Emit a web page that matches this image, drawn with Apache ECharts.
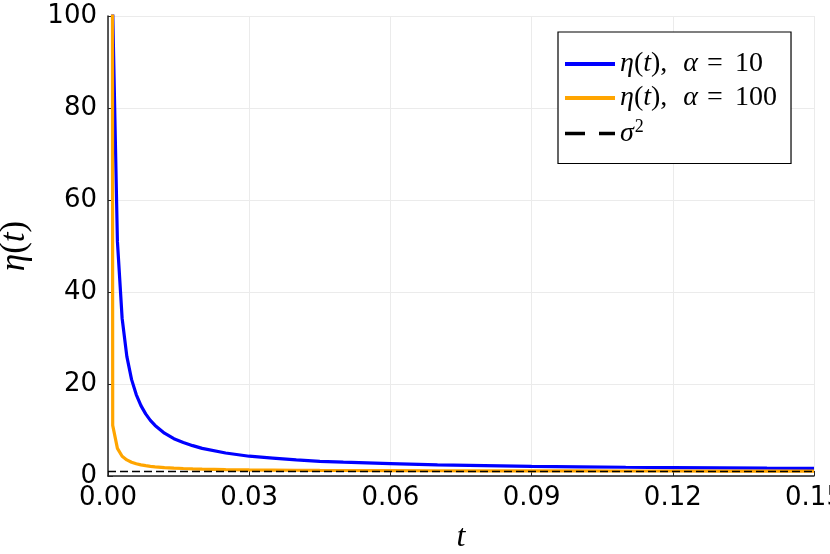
<!DOCTYPE html>
<html>
<head>
<meta charset="utf-8">
<script src="https://cdn.jsdelivr.net/npm/echarts@6/dist/echarts.min.js"></script>
<style>html,body{margin:0;padding:0;background:#fff}#c{width:830px;height:554px}</style>
</head>
<body>
<div id="c"></div>
<script>
// ---- data ----
const tAlpha10 = [0.001,0.002,0.003,0.004,0.005,0.006,0.007,0.008,0.009,0.010,0.012,0.014,0.016,0.018,0.020,0.025,0.030,0.035,0.040,0.045,0.050,0.060,0.070,0.080,0.090,0.100,0.110,0.120,0.130,0.140,0.150];
const etaAlpha10 = [101,51,34.3,26,21,17.7,15.3,13.5,12.1,11,9.3,8.1,7.3,6.6,6,5,4.3,3.9,3.5,3.2,3,2.7,2.4,2.25,2.1,2,1.9,1.83,1.77,1.71,1.67];
const tAlpha100 = [0.00095,0.001,0.002,0.003,0.004,0.005,0.006,0.007,0.008,0.009,0.010,0.012,0.014,0.016,0.018,0.020,0.025,0.030,0.035,0.040,0.045,0.050,0.060,0.070,0.080,0.090,0.100,0.110,0.120,0.130,0.140,0.150];
const etaAlpha100 = [105,11,6,4.3,3.5,3,2.67,2.43,2.25,2.1,2,1.83,1.71,1.63,1.56,1.5,1.4,1.33,1.29,1.25,1.22,1.2,1.17,1.14,1.125,1.11,1.1,1.09,1.083,1.077,1.071,1.067];
const tSigma = [0, 0.15];
const sigma2 = [1, 1];
const seriesNames = ['η(t), α = 10', 'η(t), α = 100', 'σ²'];
const xTicks = [0, 0.03, 0.06, 0.09, 0.12, 0.15];
const yTicks = [0, 20, 40, 60, 80, 100];

const zip = (a, b) => a.map((v, i) => [v, b[i]]);
const serif = 'Liberation Serif';
const FS = 28;
const rich = {
  i: {fontFamily: serif, fontStyle: 'italic', fontSize: FS, color: '#000'},
  r: {fontFamily: serif, fontSize: FS, color: '#000'},
  e: {fontFamily: serif, fontSize: FS, color: '#000', width: 20},
  a: {fontFamily: serif, fontSize: FS, color: '#000', width: 16},
  b: {fontFamily: serif, fontSize: FS, color: '#000', width: 9},
  c: {fontFamily: serif, fontSize: FS, color: '#000', width: 8},
  s: {fontFamily: serif, fontSize: 18, color: '#000', padding: [0, 0, 13, 1]}
};
const legendLabels = {
  [seriesNames[0]]: '{i|η}{r|(}{i|t}{r|),}{a| }{i|α}{b| }{e|=}{c| }{r|10}',
  [seriesNames[1]]: '{i|η}{r|(}{i|t}{r|),}{a| }{i|α}{b| }{e|=}{c| }{r|100}',
  [seriesNames[2]]: '{i|σ}{s|2}'
};

const chart = echarts.init(document.getElementById('c'), null, {renderer: 'canvas'});
chart.setOption({
  animation: false,
  backgroundColor: '#fff',
  grid: {left: 108, right: 16, top: 16, bottom: 78, containLabel: false, outerBoundsMode: 'none'},
  xAxis: {
    type: 'value', min: xTicks[0], max: xTicks[xTicks.length - 1], interval: 0.03,
    name: '{i|t}', nameLocation: 'middle', nameGap: 46,
    nameTextStyle: {rich: {i: {fontFamily: serif, fontStyle: 'italic', fontSize: 32, color: '#000'}}},
    axisLine: {onZero: false, lineStyle: {color: '#222', width: 1.5}},
    axisTick: {inside: true, length: 5, lineStyle: {color: '#222', width: 1}},
    axisLabel: {fontFamily: 'DejaVu Sans', fontSize: 26, color: '#000', margin: 9,
      formatter: v => v.toFixed(2), showMaxLabel: true, hideOverlap: false},
    splitLine: {show: true, lineStyle: {color: '#ebebeb', width: 1}}
  },
  yAxis: {
    type: 'value', min: yTicks[0], max: yTicks[yTicks.length - 1], interval: 20,
    name: '{i|η}{r|(}{i|t}{r|)}', nameLocation: 'middle', nameGap: 76, nameRotate: 90,
    nameTextStyle: {rich: {
      i: {fontFamily: serif, fontStyle: 'italic', fontSize: 35, color: '#000'},
      r: {fontFamily: serif, fontSize: 35, color: '#000'}}},
    axisLine: {onZero: false, lineStyle: {color: '#222', width: 1.5}},
    axisTick: {inside: true, length: 5, lineStyle: {color: '#222', width: 1}},
    axisLabel: {fontFamily: 'DejaVu Sans', fontSize: 26, color: '#000', margin: 11},
    splitLine: {show: true, lineStyle: {color: '#ebebeb', width: 1}}
  },
  legend: {
    orient: 'vertical', left: 558, top: 32,
    padding: [18, 14, 16, 5],
    itemWidth: 50, itemHeight: 26, itemGap: 6,
    backgroundColor: '#fff', borderColor: '#000', borderWidth: 1.2, borderRadius: 0,
    itemStyle: {opacity: 0},
    textStyle: {rich: rich, lineHeight: 26},
    formatter: name => legendLabels[name],
    data: [
      {name: seriesNames[0], lineStyle: {width: 4}, itemStyle: {opacity: 0}},
      {name: seriesNames[1], lineStyle: {width: 4}, itemStyle: {opacity: 0}},
      {name: seriesNames[2], lineStyle: {width: 3.5, type: [20, 14]}, itemStyle: {opacity: 0}}
    ]
  },
  series: [
    {name: seriesNames[0], type: 'line', data: zip(tAlpha10, etaAlpha10), symbol: 'none',
      lineStyle: {color: '#0000ff', width: 3.2}, itemStyle: {color: '#0000ff'}, clip: true, z: 2},
    {name: seriesNames[1], type: 'line', data: zip(tAlpha100, etaAlpha100), symbol: 'none',
      lineStyle: {color: '#ffa500', width: 3.2}, itemStyle: {color: '#ffa500'}, clip: true, z: 3},
    {name: seriesNames[2], type: 'line', data: zip(tSigma, sigma2), symbol: 'none',
      lineStyle: {color: '#000', width: 1.5, type: [8, 4]}, itemStyle: {color: '#000'}, clip: true, z: 4}
  ]
});
</script>
</body>
</html>
